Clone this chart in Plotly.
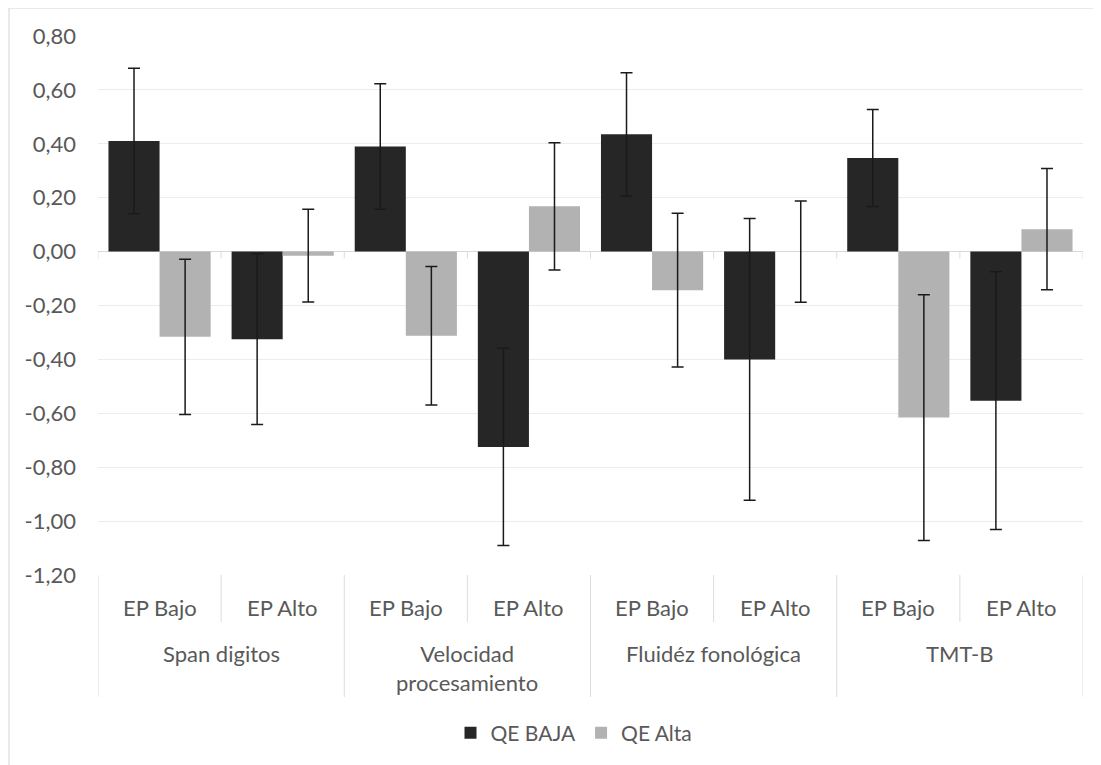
import plotly.graph_objects as go

# ---- data ----
groups = ["Span digitos", "Velocidad<br>procesamiento", "Fluidéz fonológica", "TMT-B"]
subgroups = ["EP Bajo", "EP Alto"]
series_names = ["QE BAJA", "QE Alta"]
qe_baja = [0.41, -0.325, 0.39, -0.725, 0.435, -0.40, 0.347, -0.553]
qe_baja_err = [0.27, 0.317, 0.233, 0.366, 0.229, 0.523, 0.18, 0.478]
qe_alta = [-0.316, -0.015, -0.312, 0.168, -0.143, 0.0, -0.616, 0.083]
qe_alta_err = [0.288, 0.172, 0.257, 0.236, 0.285, 0.188, 0.456, 0.225]
y_tickvals = [0.8, 0.6, 0.4, 0.2, 0.0, -0.2, -0.4, -0.6, -0.8, -1.0, -1.2]
y_ticktext = ["0,80", "0,60", "0,40", "0,20", "0,00", "-0,20", "-0,40", "-0,60", "-0,80", "-1,00", "-1,20"]

colors = ["#262626", "#b2b2b2"]
text_color = "#595959"
line_color = "#dcdcdc"
FONT = "Lato"

cats = [f"{g}|{s}" for g in groups for s in subgroups]
n = len(cats)

fig = go.Figure()
for name, vals, errs, col in [(series_names[0], qe_baja, qe_baja_err, colors[0]),
                              (series_names[1], qe_alta, qe_alta_err, colors[1])]:
    fig.add_trace(go.Bar(
        x=cats, y=vals, name=name,
        marker=dict(color=col, line=dict(width=0)),
        error_y=dict(type="data", array=errs, visible=True,
                     color="#1a1a1a", thickness=1.5, width=6),
    ))

# page geometry (pixels in the browser window); body margin offsets the figure by 8px
OFF = 8
W, H = 1101, 765
PL, PR, PT, PB = 98, 1083, 36, 575   # plot area in page pixels
L = PL - OFF
T = PT - OFF
R = W - (PR - OFF)
B = H - (PB - OFF)
ph = PB - PT
pw = PR - PL

def py(pix):
    return (PB - pix) / ph

def px(pix):
    return (pix - PL) / pw

shapes = []
# inner boundaries (short)
for k in range(len(groups)):
    xb = 2 * k + 0.5
    shapes.append(dict(type="line", xref="x", yref="paper", x0=xb, x1=xb,
                       y0=0, y1=py(622), line=dict(color=line_color, width=1)))
# outer boundaries (long)
for k in range(len(groups) + 1):
    xb = 2 * k - 0.5
    shapes.append(dict(type="line", xref="x", yref="paper", x0=xb, x1=xb,
                       y0=0, y1=py(697), line=dict(color=line_color, width=1)))
# tick marks at zero line
for k in range(n + 1):
    xb = k - 0.5
    shapes.append(dict(type="line", xref="x", yref="y", x0=xb, x1=xb,
                       y0=0, y1=-0.026, line=dict(color=line_color, width=1)))
# outer chart border
shapes.append(dict(type="rect", xref="paper", yref="paper",
                   x0=px(9), x1=px(1115), y0=py(8), y1=py(780),
                   line=dict(color="#e2e2e2", width=1.5), fillcolor="rgba(0,0,0,0)",
                   layer="below"))

annotations = []
for i, c in enumerate(cats):
    g, s = c.split("|")
    annotations.append(dict(x=i, y=py(607), xref="x", yref="paper", text=s,
                            showarrow=False, xanchor="center", yanchor="middle",
                            font=dict(family=FONT, size=22, color=text_color)))
for k, g in enumerate(groups):
    if "<br>" in g:
        yc = py(668)
    else:
        yc = py(653)
    annotations.append(dict(x=2 * k + 0.5, y=yc, xref="x", yref="paper", text=g,
                            showarrow=False, xanchor="center", yanchor="middle",
                            font=dict(family=FONT, size=22, color=text_color)))

fig.update_layout(
    width=W, height=H,
    margin=dict(l=L, r=R, t=T, b=B, pad=0),
    paper_bgcolor="white", plot_bgcolor="white",
    barmode="group", bargap=0.17, bargroupgap=0,
    font=dict(family=FONT, size=21, color=text_color),
    showlegend=True,
    legend=dict(orientation="h", x=px(574), xanchor="center", y=py(733), yanchor="middle",
                font=dict(family=FONT, size=21, color=text_color),
                itemwidth=30, traceorder="normal", bgcolor="rgba(0,0,0,0)"),
    shapes=shapes, annotations=annotations,
)
fig.update_xaxes(type="category", range=[-0.5, n - 0.5], showticklabels=False,
                 showgrid=False, showline=False, zeroline=False, ticks="")
fig.update_yaxes(range=[-1.2, 0.8], tickvals=y_tickvals, ticktext=y_ticktext,
                 showgrid=True, gridcolor="#ececec", gridwidth=1,
                 zeroline=True, zerolinecolor="#d9d9d9", zerolinewidth=1,
                 showline=False, ticks="", ticklabelstandoff=21,
                 tickfont=dict(family=FONT, size=22, color=text_color))

fig.write_html("out.html")
